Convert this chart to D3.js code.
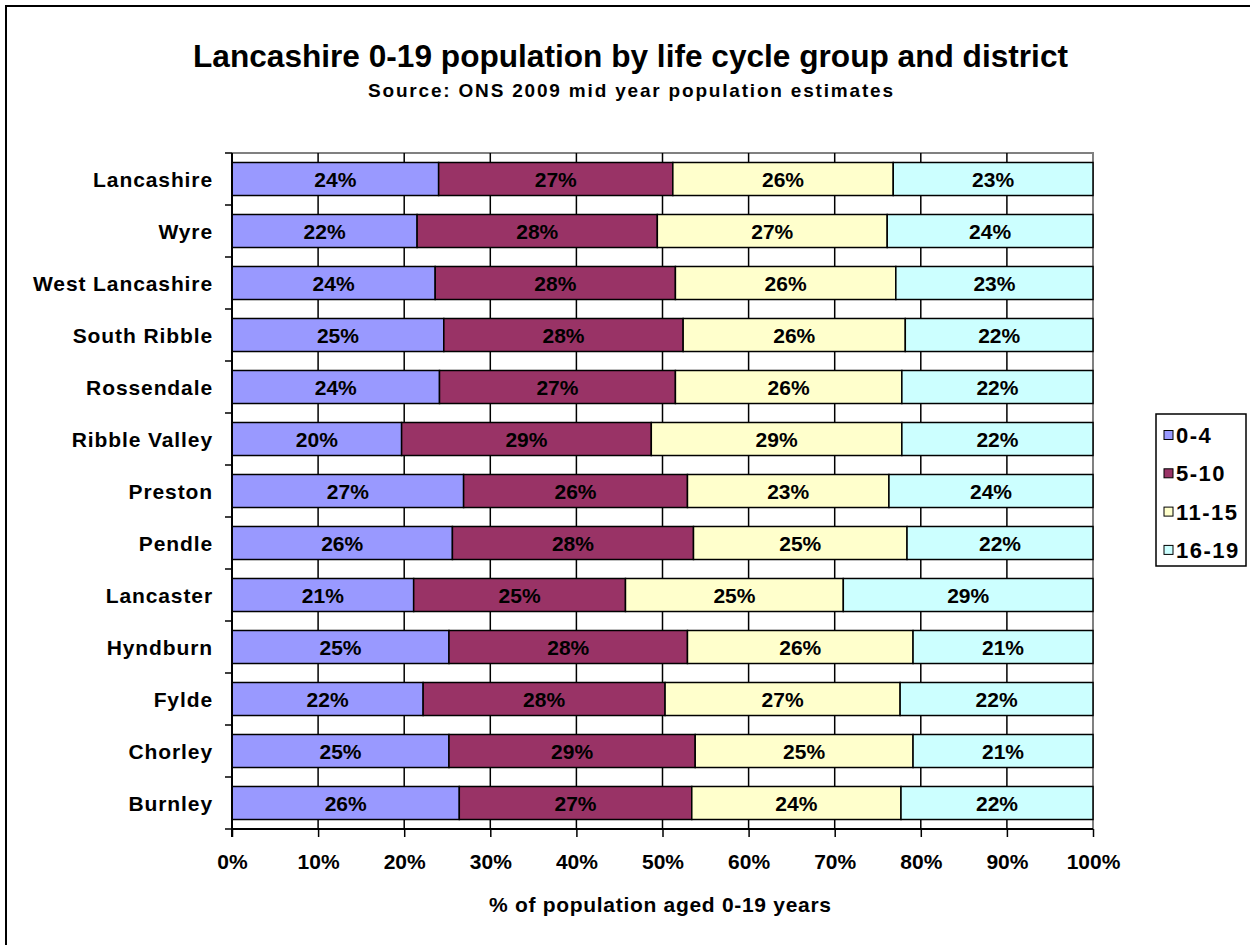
<!DOCTYPE html>
<html>
<head>
<meta charset="utf-8">
<script src="https://cdn.jsdelivr.net/npm/d3@7"></script>
<style>
  html, body { margin: 0; padding: 0; background: #fff; }
  svg { display: block; }
  text { font-family: "Liberation Sans", Arial, sans-serif; font-weight: bold; fill: #000; }
</style>
</head>
<body>
<svg id="chart" width="1250" height="945"></svg>
<script>
// Districts, top to bottom
const districts = ["Lancashire", "Wyre", "West Lancashire", "South Ribble", "Rossendale",
  "Ribble Valley", "Preston", "Pendle", "Lancaster", "Hyndburn", "Fylde", "Chorley", "Burnley"];

// Life cycle groups
const groups = ["0-4", "5-10", "11-15", "16-19"];

// Share of the 0-19 population in each group (%), per district
const age0to4   = [24.0, 21.5, 23.6, 24.6, 24.1, 19.7, 26.9, 25.6, 21.1, 25.2, 22.2, 25.2, 26.4];
const age5to10  = [27.2, 27.9, 27.9, 27.8, 27.4, 29.0, 26.0, 28.0, 24.6, 27.7, 28.1, 28.6, 27.0];
const age11to15 = [25.6, 26.7, 25.6, 25.8, 26.3, 29.1, 23.4, 24.8, 25.3, 26.2, 27.3, 25.3, 24.3];
const age16to19 = [23.2, 23.9, 22.9, 21.8, 22.2, 22.2, 23.7, 21.6, 29.0, 20.9, 22.4, 20.9, 22.3];

const xTicks = [0, 10, 20, 30, 40, 50, 60, 70, 80, 90, 100];

const colors = ["#9999FF", "#993366", "#FFFFCC", "#CCFFFF"];

const rows = districts.map((d, i) => ({
  district: d,
  "0-4": age0to4[i], "5-10": age5to10[i], "11-15": age11to15[i], "16-19": age16to19[i]
}));

const svg = d3.select("#chart");

// Chart frame
svg.append("rect").attr("x", 6).attr("y", 6).attr("width", 1262).attr("height", 962)
  .attr("fill", "#fff").attr("stroke", "#000").attr("stroke-width", 2);

const plot = { left: 232, right: 1093, top: 153, bottom: 829 };

const x = d3.scaleLinear().domain([0, 100]).range([plot.left, plot.right]);
const y = d3.scaleBand().domain(districts).range([plot.top, plot.bottom])
  .paddingInner(0.365).paddingOuter(0.1825);
const color = d3.scaleOrdinal().domain(groups).range(colors);

// Titles
svg.append("text").attr("x", 630.5).attr("y", 67).attr("text-anchor", "middle")
  .attr("font-size", 31).attr("textLength", 875).attr("lengthAdjust", "spacingAndGlyphs")
  .text("Lancashire 0-19 population by life cycle group and district");
svg.append("text").attr("x", 630.5).attr("y", 97).attr("text-anchor", "middle")
  .attr("font-size", 19).attr("textLength", 525).attr("lengthAdjust", "spacing")
  .text("Source: ONS 2009 mid year population estimates");

// Plot area border (top and right)
svg.append("path")
  .attr("d", `M${plot.left},${plot.top}H${plot.right}V${plot.bottom}`)
  .attr("fill", "none").attr("stroke", "#808080").attr("stroke-width", 2);

// Vertical gridlines
svg.append("g").selectAll("line").data(xTicks.slice(1, -1)).join("line")
  .attr("x1", d => x(d)).attr("x2", d => x(d))
  .attr("y1", plot.top).attr("y2", plot.bottom)
  .attr("stroke", "#000").attr("stroke-width", 1.5);

// Stacked bars
const stack = d3.stack().keys(groups);
const series = stack(rows);

const layers = svg.append("g").selectAll("g").data(series).join("g")
  .attr("fill", d => color(d.key));

layers.selectAll("rect").data(d => d).join("rect")
  .attr("x", d => x(d[0]))
  .attr("y", d => y(d.data.district))
  .attr("width", d => x(d[1]) - x(d[0]))
  .attr("height", y.bandwidth())
  .attr("stroke", "#000").attr("stroke-width", 1.5);

// Segment labels
layers.selectAll("text").data(d => d.map(v => ({ v, key: d.key }))).join("text")
  .attr("x", d => (x(d.v[0]) + x(d.v[1])) / 2)
  .attr("y", d => y(d.v.data.district) + y.bandwidth() / 2)
  .attr("dy", "0.36em")
  .attr("text-anchor", "middle")
  .attr("font-size", 21)
  .text(d => Math.round(d.v[1] - d.v[0]) + "%");

// X axis
const xAxis = svg.append("g").attr("transform", `translate(0,${plot.bottom})`)
  .call(d3.axisBottom(x).tickValues(xTicks).tickSize(8)
    .tickFormat(d => d + "%"));
xAxis.select(".domain").attr("stroke", "#000").attr("stroke-width", 2)
  .attr("d", `M${plot.left},0H${plot.right}`);
xAxis.selectAll(".tick line").attr("stroke", "#000").attr("stroke-width", 1.5);
xAxis.selectAll(".tick text").attr("font-family", "Liberation Sans, Arial, sans-serif")
  .attr("font-weight", "bold").attr("font-size", 21)
  .attr("fill", "#000").attr("dy", null).attr("y", 40);

// Y axis: category boundaries as ticks
const yAxis = svg.append("g").attr("transform", `translate(${plot.left},0)`);
yAxis.append("line").attr("x1", 0).attr("x2", 0)
  .attr("y1", plot.top).attr("y2", plot.bottom + 8)
  .attr("stroke", "#000").attr("stroke-width", 2);
const step = y.step();
yAxis.selectAll("line.tick").data(d3.range(districts.length + 1)).join("line")
  .attr("class", "tick")
  .attr("x1", -7).attr("x2", 0)
  .attr("y1", i => plot.top + i * step).attr("y2", i => plot.top + i * step)
  .attr("stroke", "#000").attr("stroke-width", 1.5);
yAxis.selectAll("text").data(districts).join("text")
  .attr("x", -19)
  .attr("y", d => y(d) + y.bandwidth() / 2)
  .attr("dy", "0.36em")
  .attr("text-anchor", "end")
  .attr("font-size", 21).attr("letter-spacing", 0.9)
  .text(d => d);

// Axis title
svg.append("text").attr("x", 660).attr("y", 912).attr("text-anchor", "middle")
  .attr("font-size", 21).attr("textLength", 342).attr("lengthAdjust", "spacing")
  .text("% of population aged 0-19 years");

// Legend
const legend = svg.append("g");
legend.append("rect").attr("x", 1156).attr("y", 414).attr("width", 90).attr("height", 152)
  .attr("fill", "#fff").attr("stroke", "#000").attr("stroke-width", 1.5);
const items = legend.selectAll("g.item").data(groups).join("g")
  .attr("class", "item")
  .attr("transform", (d, i) => `translate(1164,${435 + i * 38.3})`);
items.append("rect").attr("x", 0).attr("y", -4.5).attr("width", 9).attr("height", 9)
  .attr("fill", d => color(d)).attr("stroke", "#000").attr("stroke-width", 1);
items.append("text").attr("x", 12).attr("y", 0).attr("dy", "0.36em")
  .attr("font-size", 22).attr("letter-spacing", 1.5)
  .text(d => d);
</script>
</body>
</html>
